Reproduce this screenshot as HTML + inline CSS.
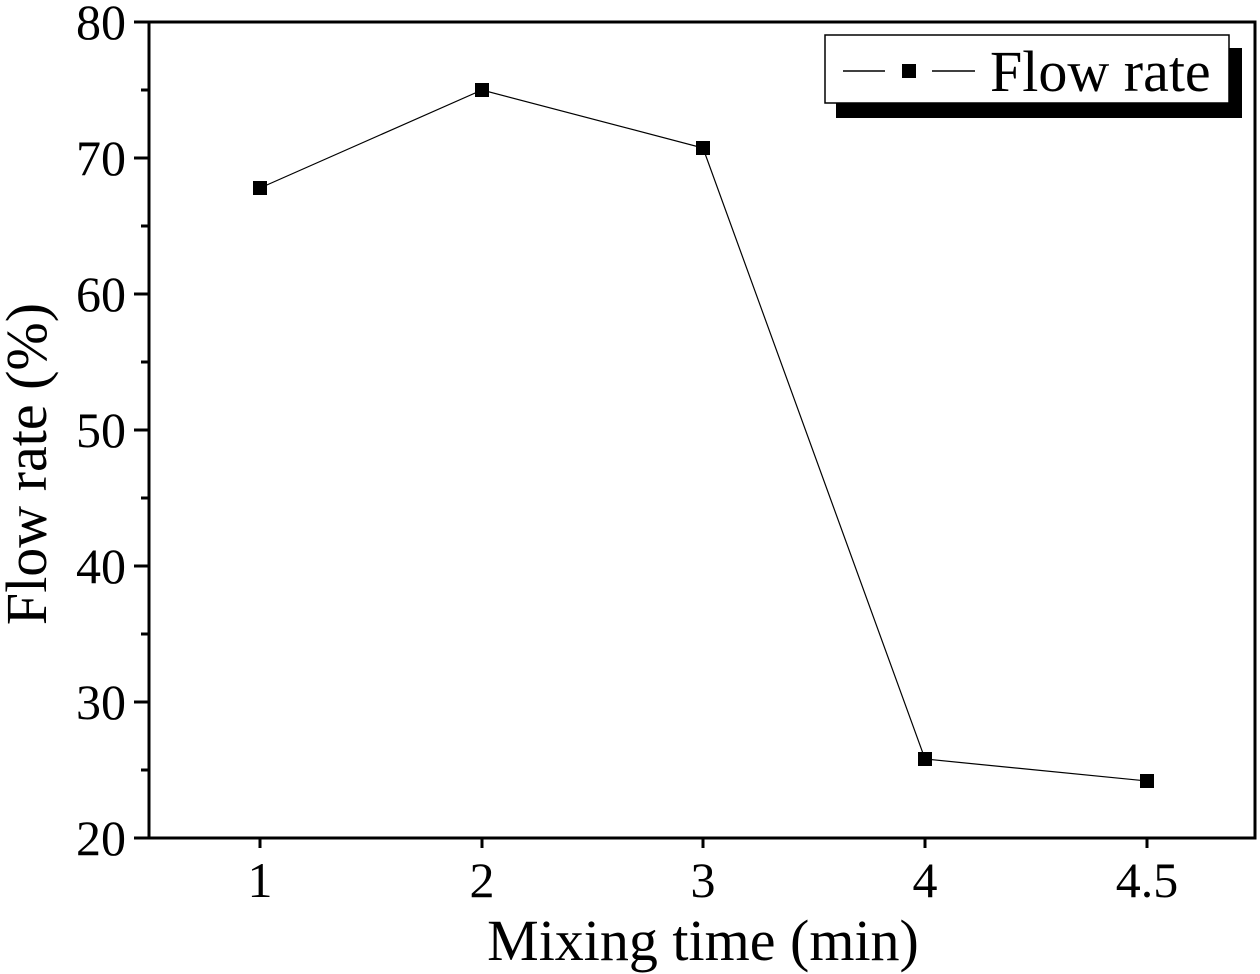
<!DOCTYPE html>
<html><head><meta charset="utf-8"><style>
html,body{margin:0;padding:0;background:#fff;}
svg{display:block;}
text{font-family:"Liberation Serif",serif;fill:#000;}
</style></head><body>
<svg width="1260" height="974" viewBox="0 0 1260 974" xmlns="http://www.w3.org/2000/svg">
<rect x="149" y="22" width="1106" height="816" fill="none" stroke="#000" stroke-width="3"/>
<g stroke="#000" stroke-width="3">
<line x1="134" y1="22" x2="149" y2="22"/><line x1="134" y1="158" x2="149" y2="158"/><line x1="134" y1="294" x2="149" y2="294"/><line x1="134" y1="430" x2="149" y2="430"/><line x1="134" y1="566" x2="149" y2="566"/><line x1="134" y1="702" x2="149" y2="702"/><line x1="134" y1="838" x2="149" y2="838"/>
<line x1="141" y1="90" x2="149" y2="90"/><line x1="141" y1="226" x2="149" y2="226"/><line x1="141" y1="362" x2="149" y2="362"/><line x1="141" y1="498" x2="149" y2="498"/><line x1="141" y1="634" x2="149" y2="634"/><line x1="141" y1="770" x2="149" y2="770"/>
<line x1="260" y1="838" x2="260" y2="848"/><line x1="482" y1="838" x2="482" y2="848"/><line x1="703" y1="838" x2="703" y2="848"/><line x1="925" y1="838" x2="925" y2="848"/><line x1="1147" y1="838" x2="1147" y2="848"/>
</g>
<g font-size="50" text-anchor="end">
<text x="126" y="39">80</text><text x="126" y="175">70</text><text x="126" y="311">60</text><text x="126" y="447">50</text><text x="126" y="583">40</text><text x="126" y="719">30</text><text x="126" y="855">20</text>
</g>
<g font-size="50" text-anchor="middle">
<text x="260" y="897">1</text><text x="482" y="897">2</text><text x="703" y="897">3</text><text x="925" y="897">4</text><text x="1147" y="897">4.5</text>
</g>
<text x="703" y="960" font-size="58" text-anchor="middle">Mixing time (min)</text>
<text transform="translate(46,464) rotate(-90)" font-size="58" text-anchor="middle">Flow rate (%)</text>
<polyline points="260,188 482,90 703,148 925,759 1147,781" fill="none" stroke="#000" stroke-width="1.2"/>
<g fill="#000">
<rect x="253" y="181" width="14" height="14"/><rect x="475" y="83" width="14" height="14"/><rect x="696" y="141" width="14" height="14"/><rect x="918" y="752" width="14" height="14"/><rect x="1140" y="774" width="14" height="14"/>
</g>
<rect x="836" y="48" width="406" height="70" fill="#000"/>
<rect x="825" y="35" width="404" height="68" fill="#fff" stroke="#000" stroke-width="1.5"/>
<line x1="843" y1="71" x2="885" y2="71" stroke="#000" stroke-width="1.5"/>
<line x1="932" y1="71" x2="975" y2="71" stroke="#000" stroke-width="1.5"/>
<rect x="902" y="64" width="14" height="14" fill="#000"/>
<text x="990" y="91" font-size="58">Flow rate</text>
</svg>
</body></html>
